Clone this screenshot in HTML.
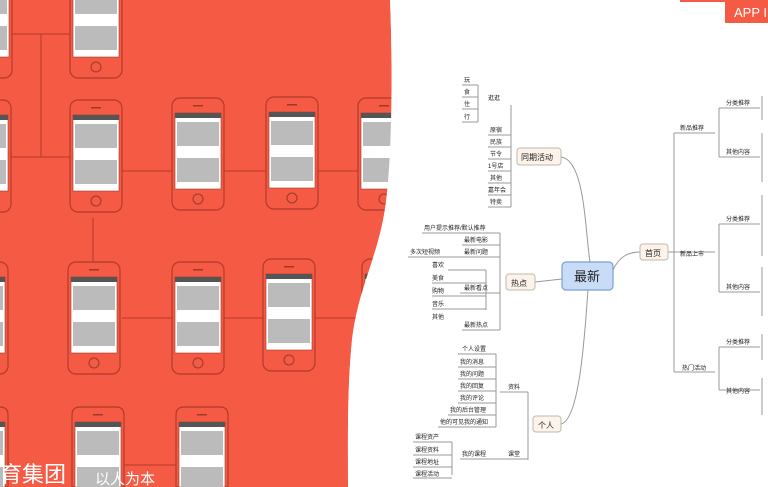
<!DOCTYPE html>
<html><head><meta charset="utf-8"><style>
html,body{margin:0;padding:0;background:#fff;width:768px;height:487px;overflow:hidden;position:relative}
svg{display:block;overflow:hidden;position:absolute;left:0;top:0}
text{font-family:"Liberation Sans","Noto Sans CJK SC",sans-serif;fill:#222}
</style></head><body>
<svg width="768" height="487" viewBox="0 0 768 487" xmlns="http://www.w3.org/2000/svg">
<defs>
<g id="ph">
<rect x="0" y="0" width="52" height="112" rx="8" fill="#f55a44" stroke="#b5392a" stroke-width="1.2"/>
<rect x="3" y="15" width="46" height="76" fill="#fff" stroke="#9a3a2a" stroke-width="0.6"/>
<rect x="3" y="15" width="46" height="5" fill="#555"/>
<rect x="5" y="24" width="42" height="24" fill="#bbb"/>
<rect x="5" y="60" width="42" height="24" fill="#bbb"/>
<circle cx="26" cy="101" r="5" fill="none" stroke="#9a3a2a" stroke-width="1"/>
<rect x="21" y="7" width="10" height="1.5" fill="#9a3a2a"/>
</g>
<g id="phb">
<path d="M0 80 L0 8 Q0 0 8 0 L44 0 Q52 0 52 8 L52 80 Z" fill="#f55a44" stroke="#b5392a" stroke-width="1.2"/>
<rect x="3" y="15" width="46" height="65" fill="#fff" stroke="#9a3a2a" stroke-width="0.6"/>
<rect x="3" y="15" width="46" height="5" fill="#555"/>
<rect x="5" y="24" width="42" height="24" fill="#bbb"/>
<rect x="5" y="60" width="42" height="20" fill="#bbb"/>
<rect x="21" y="7" width="10" height="1.5" fill="#9a3a2a"/>
</g>
</defs>
<path d="M0 0 L390 0 C393 70 392 170 384 215 C376 260 358 290 352 340 C347 390 348 440 348 487 L0 487 Z" fill="#f55a44"/>
<g stroke="#b5392a" stroke-width="1" fill="none">
<line x1="0" y1="34" x2="92" y2="34"/><line x1="41" y1="34" x2="41" y2="157"/>
<line x1="0" y1="157" x2="85" y2="157"/><line x1="100" y1="171" x2="390" y2="171"/>
<line x1="93" y1="218" x2="93" y2="262"/>
<line x1="122" y1="318" x2="360" y2="318"/><line x1="124" y1="465" x2="176" y2="465"/>
</g>
<g>
<use href="#ph" x="70" y="-34"/><use href="#ph" x="-40" y="-34"/>
<use href="#ph" x="-41" y="100"/><use href="#ph" x="70" y="100"/><use href="#ph" x="172" y="98"/><use href="#ph" x="266" y="97"/><use href="#ph" x="358" y="98"/>
<use href="#ph" x="-44" y="262"/><use href="#ph" x="68" y="262"/><use href="#ph" x="172" y="262"/><use href="#ph" x="263" y="259"/><use href="#ph" x="362" y="259"/>
<use href="#phb" x="-44" y="407"/><use href="#phb" x="72" y="407"/><use href="#phb" x="176" y="407"/>
</g>
<path d="M390 0 C393 70 392 170 384 215 C376 260 358 290 352 340 C347 390 348 440 348 487 L768 487 L768 0 Z" fill="#fff"/>
<text x="0" y="482" font-size="22" style="fill:#fff">育集团</text>
<text x="95" y="484" font-size="15" style="fill:#fff">以人为本</text>
<rect x="680" y="0" width="88" height="2" fill="#f55a44"/>
<rect x="725" y="0" width="43" height="23" fill="#f55a44"/>
<text x="734" y="17" font-size="13" style="fill:#fff">APP I</text>
<g stroke="#999" stroke-width="1" fill="none">
<path d="M561 157 C585 160 585 230 590 262"/>
<path d="M535 282 L562 279"/>
<path d="M561 424 C580 420 585 330 588 290"/>
<path d="M613 270 C620 255 630 252 640 252"/>
<path d="M668 252 L674 252 M674 133 L674 372 M674 133 L715 133 M674 252 L715 252 M674 372 L715 372"/>
<path d="M719 108 L719 157 M719 108 L760 108 M719 157 L760 157"/>
<path d="M719 224 L719 292 M719 224 L760 224 M719 292 L760 292"/>
<path d="M719 347 L719 390 M719 347 L760 347 M719 390 L760 390"/>
<path d="M762 96 L762 120 M762 133 L762 182 M762 195 L762 256 M762 267 L762 316 M762 334 L762 360 M762 378 L762 415"/>
<path d="M511 105 L511 207 M478 85 L478 122 M462 85 L478 85 M462 97 L478 97 M462 109 L478 109 M462 122 L478 122"/>
<path d="M488 135 L511 135 M488 147 L511 147 M488 159 L511 159 M488 171 L511 171 M488 183 L511 183 M488 195 L511 195 M488 207 L511 207"/>
<path d="M500 233 L500 330 M422 233 L500 233 M462 245 L500 245 M408 257 L500 257 M460 293 L500 293 M486 270 L486 310 M448 270 L486 270 M432 283 L486 283 M432 296 L486 296 M432 309 L486 309 M462 330 L500 330"/>
<path d="M528 392 L528 460 M528 392 L500 392 M496 354 L496 427 M458 354 L496 354 M458 367 L496 367 M458 379 L496 379 M458 391 L496 391 M458 403 L496 403 M448 415 L496 415 M438 427 L496 427 M460 459 L528 459 M452 442 L452 475 M413 442 L452 442 M413 455 L452 455 M413 467 L452 467 M413 478 L452 478"/>
</g>
<rect x="562" y="262" width="51" height="28" rx="4" fill="#c8dcf8" stroke="#7b9fd2" stroke-width="1.2"/>
<text x="574" y="281" font-size="13">最新</text>
<rect x="640" y="244" width="28" height="16" rx="3" fill="#fdf3ea" stroke="#bba" stroke-width="1"/>
<text x="645" y="256" font-size="8">首页</text>
<rect x="517" y="148" width="44" height="17" rx="3" fill="#fdf3ea" stroke="#bba" stroke-width="1"/>
<text x="521" y="160" font-size="8">同期活动</text>
<rect x="506" y="274" width="29" height="16" rx="3" fill="#fdf3ea" stroke="#bba" stroke-width="1"/>
<text x="511" y="286" font-size="8">热点</text>
<rect x="533" y="416" width="28" height="16" rx="3" fill="#fdf3ea" stroke="#bba" stroke-width="1"/>
<text x="538" y="428" font-size="8">个人</text>
<g font-size="6">
<text x="680" y="130">新品推荐</text><text x="680" y="256">新品上市</text><text x="682" y="370">热门活动</text>
<text x="726" y="105">分类推荐</text><text x="726" y="154">其他内容</text><text x="726" y="221">分类推荐</text><text x="726" y="289">其他内容</text><text x="726" y="344">分类推荐</text><text x="726" y="393">其他内容</text>
<text x="464" y="82">玩</text><text x="464" y="94">食</text><text x="464" y="106">住</text><text x="464" y="119">行</text><text x="488" y="100">逛逛</text>
<text x="490" y="132">原宿</text><text x="490" y="144">民族</text><text x="490" y="156">节令</text><text x="488" y="168">1号店</text><text x="490" y="180">其他</text><text x="488" y="192">嘉年会</text><text x="490" y="204">特卖</text>
<text x="424" y="230">用户提示推荐/默认推荐</text><text x="464" y="242">最新电影</text><text x="410" y="254">多次短视频</text><text x="464" y="254">最新问题</text>
<text x="432" y="267">喜欢</text><text x="432" y="280">美食</text><text x="432" y="293">购物</text><text x="432" y="306">音乐</text><text x="432" y="319">其他</text><text x="464" y="290">最新看点</text><text x="464" y="327">最新热点</text>
<text x="462" y="351">个人设置</text><text x="460" y="364">我的消息</text><text x="460" y="376">我的问题</text><text x="460" y="388">我的回复</text><text x="460" y="400">我的评论</text><text x="450" y="412">我的后台管理</text><text x="440" y="424">他的可见我的通知</text><text x="508" y="389">资料</text>
<text x="415" y="439">课程资产</text><text x="415" y="452">课程资料</text><text x="415" y="464">课程地址</text><text x="415" y="476">课程活动</text><text x="462" y="456">我的课程</text><text x="508" y="456">课堂</text>
</g>
</svg>
</body></html>
